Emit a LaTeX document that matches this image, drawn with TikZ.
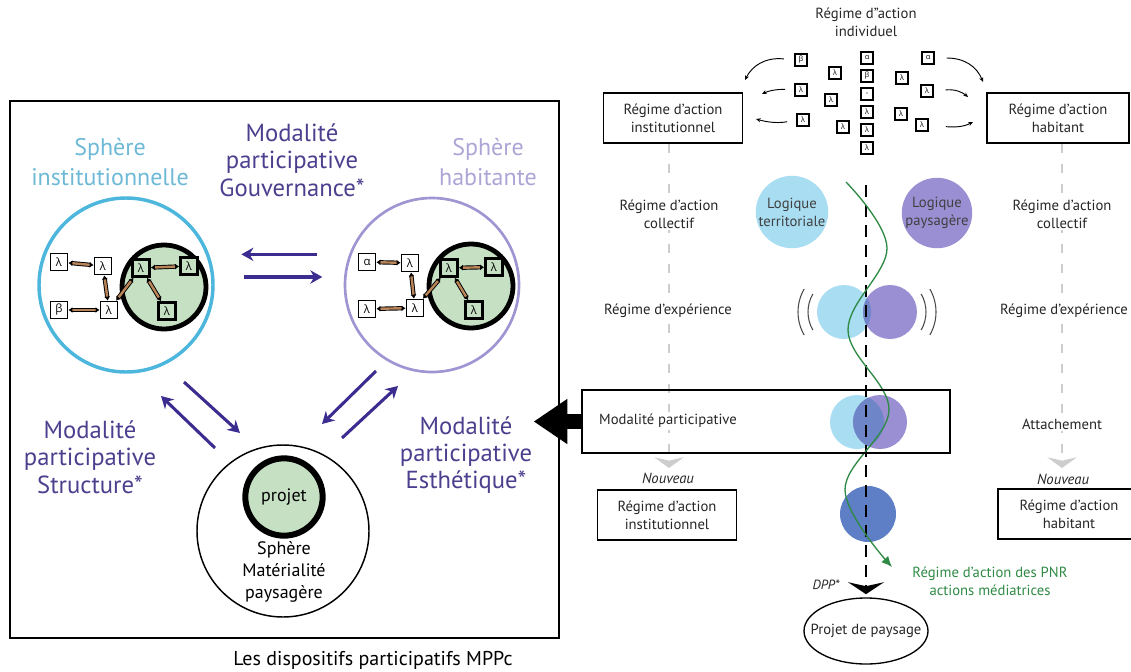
\documentclass[tikz,border=0pt]{standalone}
\usepackage{fontspec}
\setmainfont{PT Sans}
\newfontfamily\grk{Open Sans}
\usetikzlibrary{arrows.meta,positioning,calc,shapes.geometric}
\definecolor{sinstc}{HTML}{4DB6DD}
\definecolor{sinstt}{HTML}{6DB9D6}
\definecolor{shabc}{HTML}{A095D2}
\definecolor{shabt}{HTML}{ADA5D6}
\definecolor{modt}{HTML}{4B3F8E}
\definecolor{parrc}{HTML}{3B2C8F}
\definecolor{lgreen}{HTML}{C6E0C4}
\definecolor{brn}{HTML}{B98457}
\definecolor{ltblue}{HTML}{A8DDF2}
\definecolor{lavnd}{HTML}{998FD2}
\definecolor{ovblue}{HTML}{6E85C8}
\definecolor{dblue}{HTML}{5E7EC6}
\definecolor{wavec}{HTML}{2E8A44}
\definecolor{greyln}{HTML}{CDCDCD}

\begin{document}
\begin{tikzpicture}[x=0.75pt,y=-0.75pt,
big/.style={align=center,font=\fontsize{18.5}{20.5}\selectfont},
sph/.style={circle,minimum size=130.5pt,inner sep=0pt},
grn/.style={circle,draw,line width=3.6pt,fill=lgreen,minimum size=63pt,inner sep=0pt},
lbox/.style={draw,line width=1.1pt,fill=white,minimum size=13pt,inner sep=0pt,font=\grk\fontsize{8.5}{9}\selectfont},
gbox/.style={lbox,line width=1.8pt,fill=lgreen},
lnk/.style={{Latex[length=3pt,width=4.5pt]}-{Latex[length=3pt,width=4.5pt]},double=brn,double distance=1.8pt,line width=0.7pt},
parr/.style={-{Stealth[length=9pt,width=10pt]},line width=2.3pt,parrc},
rtxt/.style={align=center,font=\fontsize{11}{13.5}\selectfont,text=black!85},
lbl/.style={rtxt,fill=white,inner sep=1.5pt},
rbox/.style={draw,line width=0.8pt,minimum width=104pt,minimum height=37.5pt,rtxt},
sbox/.style={draw,line width=0.9pt,fill=white,minimum size=9pt,inner sep=0pt,font=\grk\fontsize{5.5}{6}\selectfont},
carr/.style={-{Stealth[length=3.5pt,width=3pt]},line width=0.7pt},
gline/.style={greyln,line width=1.1pt,dash pattern=on 7pt off 8pt,-{Stealth[length=8pt,width=22pt,inset=2.5pt]}},
cdash/.style={line width=2.2pt,dash pattern=on 9pt off 6pt,-{Stealth[length=9pt,width=27pt,inset=3pt]}},
wave/.style={wavec,line width=1pt,-{Latex[length=8pt,width=7pt]}}]
\useasboundingbox (0,0) rectangle (1131,671);

% ---------- partie gauche : les dispositifs participatifs
\node[draw,line width=1.4pt,minimum width=411.75pt,minimum height=402.75pt,inner sep=0pt] (frame) at (284.5,369.5) {};
\node[big,text=sinstt,font=\fontsize{18}{22}\selectfont] (linst) at (110,162) {Sphère\\institutionnelle};
\node[big,text=shabt,font=\fontsize{18}{22}\selectfont] (lhab) at (488,162) {Sphère\\habitante};
\node[big,text=modt] (mgov) at (292,160) {Modalité\\participative\\Gouvernance*};
\node[big,text=modt] (mstr) at (90,457) {Modalité\\participative\\Structure*};
\node[big,text=modt] (mest) at (466,455) {Modalité\\participative\\Esthétique*};

% sphère institutionnelle
\node[sph,draw=sinstc,line width=2.6pt] (sinst) at (126,285) {};
\node[grn] (ginst) at (164,287) {};
\node[lbox] (i1) at (59,262) {λ};
\node[lbox] (i2) at (103,266) {λ};
\node[lbox] (i3) at (59,310) {β};
\node[lbox] (i4) at (109,310) {λ};
\node[gbox] (i5) at (141,268) {λ};
\node[gbox] (i6) at (189,266) {λ};
\node[gbox] (i7) at (167,311) {λ};
\draw[lnk] (i1)--(i2);
\draw[lnk] (i2)--(i4);
\draw[lnk] (i3)--(i4);
\draw[lnk] (i4)--(i5);
\draw[lnk] (i5)--(i6);
\draw[lnk] (i5)--(i7);

% sphère habitante
\node[sph,draw=shabc,line width=2pt] (shab) at (432,285) {};
\node[grn] (ghab) at (471,286) {};
\node[lbox] (h1) at (367,262) {α};
\node[lbox] (h2) at (410,263) {λ};
\node[lbox] (h3) at (367,309) {λ};
\node[lbox] (h4) at (415,308) {λ};
\node[gbox] (h5) at (449,268) {λ};
\node[gbox] (h6) at (494,267) {λ};
\node[gbox] (h7) at (474,310) {λ};
\draw[lnk] (h1)--(h2);
\draw[lnk] (h2)--(h4);
\draw[lnk] (h3)--(h4);
\draw[lnk] (h4)--(h5);
\draw[lnk] (h5)--(h6);
\draw[lnk] (h5)--(h7);

% sphère matérialité
\node[circle,draw,line width=1.1pt,minimum size=129pt,inner sep=0pt] (smat) at (283,531) {};
\node[circle,draw,line width=4.5pt,fill=lgreen,minimum size=58pt,inner sep=0pt,font=\fontsize{13.5}{16}\selectfont] (pjt) at (284,497) {projet};
\node[align=center,font=\fontsize{13.5}{16.5}\selectfont] (lmat) at (284,572) {Sphère\\Matérialité\\paysagère};
\node[font=\fontsize{15}{18}\selectfont] (capt) at (373,660) {Les dispositifs participatifs MPPc};

% flèches entre sphères
\draw[parr,shorten <=20pt,shorten >=20pt] ([yshift=23pt]shab.west) -- ([yshift=23pt]sinst.east);
\draw[parr,shorten <=22pt,shorten >=16pt] ([yshift=6pt]sinst.east) -- ([yshift=6pt]shab.west);
\coordinate (a1) at (215,448);
\coordinate (a2) at (161,396);
\coordinate (a3) at (184,382);
\coordinate (a4) at (240,433);
\coordinate (a5) at (376,371);
\coordinate (a6) at (322,424);
\coordinate (a7) at (342,438);
\coordinate (a8) at (398,386);
\draw[parr] (a1) -- (a2);
\draw[parr] (a3) -- (a4);
\draw[parr] (a5) -- (a6);
\draw[parr] (a7) -- (a8);

% ---------- partie droite : régimes d'action
\node[rtxt] (rind) at (866,22) {Régime d"action\\individuel};
\node[rbox] (instT) at (673,118) {Régime d’action\\institutionnel};
\node[rbox,minimum width=106.5pt] (habT) at (1058,118) {Régime d’action\\habitant};
\node[rbox] (instB) at (667,515) {Régime d’action\\institutionnel};
\node[rbox,minimum width=106.5pt] (habB) at (1069,514) {Régime d’action\\habitant};

% acteurs individuels
\node[sbox] (bL1) at (801,60) {β};
\node[sbox] (bL2) at (835,73) {λ};
\node[sbox] (bL3) at (801,90) {λ};
\node[sbox] (bL4) at (831,100) {λ};
\node[sbox] (bL5) at (803,120) {λ};
\node[sbox] (bL6) at (843,127) {λ};
\node[sbox] (bC1) at (867,58) {α};
\node[sbox] (bC2) at (867,76) {β};
\node[sbox] (bC3) at (867,94) {-};
\node[sbox] (bC4) at (867,112) {λ};
\node[sbox] (bC5) at (867,130) {λ};
\node[sbox] (bC6) at (867,148) {λ};
\node[sbox] (bR1) at (928,58) {α};
\node[sbox] (bR2) at (902,78) {λ};
\node[sbox] (bR3) at (927,91) {λ};
\node[sbox] (bR4) at (901,114) {λ};
\node[sbox] (bR5) at (922,125) {λ};
\coordinate (tL1) at (745,80);
\coordinate (tL2) at (762,94);
\coordinate (tL3) at (756,119);
\coordinate (tR1) at (983,82);
\coordinate (tR2) at (968,97);
\coordinate (tR3) at (973,122);
\draw[carr,shorten <=8pt] (bL1.west) .. controls (765,57) and (752,66) .. (tL1);
\draw[carr,shorten <=7pt] (bL3.west) .. controls (777,89) and (768,91) .. (tL2);
\draw[carr,shorten <=7pt] (bL5.west) .. controls (775,124) and (763,121) .. (tL3);
\draw[carr,shorten <=9pt] (bR1.east) .. controls (965,58) and (977,67) .. (tR1);
\draw[carr,shorten <=9pt] (bR3.east) .. controls (955,89) and (962,92) .. (tR2);
\draw[carr,shorten <=13pt] (bR5.east) .. controls (960,128) and (967,125) .. (tR3);

% colonnes grises
\coordinate (gL) at (669,468);
\coordinate (gR) at (1062,468);
\draw[gline] (instT.south -| gL) -- (gL);
\draw[gline] (habT.south -| gR) -- (gR);

% logiques
\node[circle,fill=ltblue,minimum size=42pt,inner sep=0pt,rtxt,text=black!75] (ltr) at (792,212) {Logique\\territoriale};
\node[circle,fill=lavnd,minimum size=42pt,inner sep=0pt,rtxt,text=black!75] (lpy) at (937,213) {Logique\\paysagère};

% régime d'expérience
\fill[ltblue] (844,312) circle[radius=27];
\fill[lavnd] (890,312) circle[radius=27];
\begin{scope}
\clip (844,312) circle[radius=27];
\fill[ovblue] (890,312) circle[radius=27];
\end{scope}
\draw[line width=0.8pt,black!70] (844,312) ++(150:36) arc[start angle=150,end angle=210,radius=36];
\draw[line width=0.8pt,black!70] (844,312) ++(150:46) arc[start angle=150,end angle=210,radius=46];
\draw[line width=0.8pt,black!70] (890,312) ++(-30:36) arc[start angle=-30,end angle=30,radius=36];
\draw[line width=0.8pt,black!70] (890,312) ++(-30:46) arc[start angle=-30,end angle=30,radius=46];

% modalité participative
\fill[ltblue] (857,422) circle[radius=27];
\fill[lavnd] (880,422) circle[radius=27];
\begin{scope}
\clip (857,422) circle[radius=27];
\fill[ovblue] (880,422) circle[radius=27];
\end{scope}
\fill[dblue] (868,514) circle[radius=28];

% projet de paysage
\node[rtxt] (proj) at (866,631) {Projet de paysage};
\draw[line width=1pt] (proj) ellipse[x radius=62,y radius=33];
\coordinate (ctop) at (866,185);
\draw[cdash,shorten >=19pt] (ctop) -- (proj.north);
\node[rtxt,font=\fontsize{10}{12}\selectfont\itshape] (dpp) at (826,585) {DPP*};

\draw[wave] plot[smooth,tension=0.6] coordinates {(846,182) (887,248) (848,330) (889,410) (845,490) (892,567)};
\node[rtxt,text=wavec] (pnr) at (990,581) {Régime d’action des PNR\\actions médiatrices};

% libellés des colonnes
\node[lbl] (colL) at (669,214) {Régime d’action\\collectif};
\node[lbl] (colR) at (1062,214) {Régime d’action\\collectif};
\node[lbl] (expL) at (668,311) {Régime d’expérience};
\node[lbl] (expR) at (1064,311) {Régime d’expérience};
\node[lbl] (modL) at (668,421) {Modalité participative};
\node[lbl] (attR) at (1062,424) {Attachement};
\node[rtxt,font=\fontsize{11}{13}\selectfont\itshape] (nvL) at (668,478) {Nouveau};
\node[rtxt,font=\fontsize{11}{13}\selectfont\itshape] (nvR) at (1063,479) {Nouveau};

% encadré et renvoi
\node[draw,line width=1.9pt,minimum width=276pt,minimum height=47.25pt,inner sep=0pt] (modal) at (766,421.5) {};
\coordinate (bigtip) at (534,421.5);
\draw[line width=11pt,-{Triangle[length=25pt,width=34pt,line width=0pt]}] (modal.west) -- (bigtip);
\end{tikzpicture}
\end{document}
